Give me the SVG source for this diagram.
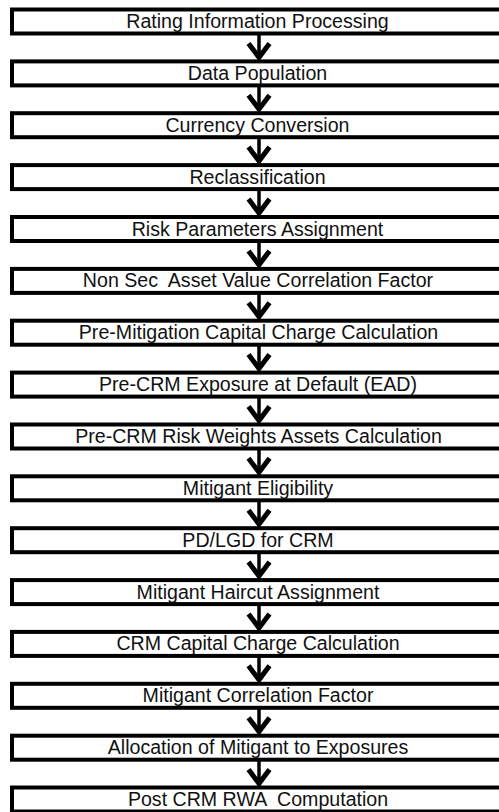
<svg xmlns="http://www.w3.org/2000/svg" width="499" height="812" viewBox="0 0 499 812">
<defs>
<style>
.box{fill:#fff;stroke:#000;stroke-width:4}
.lbl{font-family:"Liberation Sans",Arial,sans-serif;font-size:19.6px;fill:#111;text-anchor:middle}
.shaft{stroke:#000;stroke-width:3.5;fill:none}
.head{stroke:#000;stroke-width:5;fill:none;stroke-linejoin:miter;stroke-linecap:butt}
</style>
</defs>
<rect width="499" height="812" fill="#fff"/>
<g id="connectors">
<g><line class="shaft" x1="259" y1="33.5" x2="259" y2="57.4"/><polyline class="head" points="248.5,43.4 259,57.4 269.5,43.4"/></g>
<g><line class="shaft" x1="259" y1="85.4" x2="259" y2="109.2"/><polyline class="head" points="248.5,95.2 259,109.2 269.5,95.2"/></g>
<g><line class="shaft" x1="259" y1="137.2" x2="259" y2="161.1"/><polyline class="head" points="248.5,147.1 259,161.1 269.5,147.1"/></g>
<g><line class="shaft" x1="259" y1="189.1" x2="259" y2="213"/><polyline class="head" points="248.5,199 259,213 269.5,199"/></g>
<g><line class="shaft" x1="259" y1="241" x2="259" y2="264.9"/><polyline class="head" points="248.5,250.9 259,264.9 269.5,250.9"/></g>
<g><line class="shaft" x1="259" y1="292.9" x2="259" y2="316.7"/><polyline class="head" points="248.5,302.7 259,316.7 269.5,302.7"/></g>
<g><line class="shaft" x1="259" y1="344.7" x2="259" y2="368.6"/><polyline class="head" points="248.5,354.6 259,368.6 269.5,354.6"/></g>
<g><line class="shaft" x1="259" y1="396.6" x2="259" y2="420.5"/><polyline class="head" points="248.5,406.5 259,420.5 269.5,406.5"/></g>
<g><line class="shaft" x1="259" y1="448.5" x2="259" y2="472.3"/><polyline class="head" points="248.5,458.3 259,472.3 269.5,458.3"/></g>
<g><line class="shaft" x1="259" y1="500.3" x2="259" y2="524.2"/><polyline class="head" points="248.5,510.2 259,524.2 269.5,510.2"/></g>
<g><line class="shaft" x1="259" y1="552.2" x2="259" y2="576.1"/><polyline class="head" points="248.5,562.1 259,576.1 269.5,562.1"/></g>
<g><line class="shaft" x1="259" y1="604.1" x2="259" y2="627.9"/><polyline class="head" points="248.5,613.9 259,627.9 269.5,613.9"/></g>
<g><line class="shaft" x1="259" y1="655.9" x2="259" y2="679.8"/><polyline class="head" points="248.5,665.8 259,679.8 269.5,665.8"/></g>
<g><line class="shaft" x1="259" y1="707.8" x2="259" y2="731.7"/><polyline class="head" points="248.5,717.7 259,731.7 269.5,717.7"/></g>
<g><line class="shaft" x1="259" y1="759.7" x2="259" y2="783.5"/><polyline class="head" points="248.5,769.5 259,783.5 269.5,769.5"/></g>
</g>
<g id="n1"><rect class="box" x="12" y="9.5" width="500" height="24"/><text class="lbl" x="257.5" y="28">Rating Information Processing</text></g>
<g id="n2"><rect class="box" x="12" y="61.4" width="500" height="24"/><text class="lbl" x="257.5" y="79.9">Data Population</text></g>
<g id="n3"><rect class="box" x="12" y="113.2" width="500" height="24"/><text class="lbl" x="257.5" y="131.7">Currency Conversion</text></g>
<g id="n4"><rect class="box" x="12" y="165.1" width="500" height="24"/><text class="lbl" x="257.5" y="183.6">Reclassification</text></g>
<g id="n5"><rect class="box" x="12" y="217" width="500" height="24"/><text class="lbl" x="257.5" y="235.5">Risk Parameters Assignment</text></g>
<g id="n6"><rect class="box" x="12" y="268.9" width="500" height="24"/><text class="lbl" x="258" y="287.4" xml:space="preserve">Non Sec  Asset Value Correlation Factor</text></g>
<g id="n7"><rect class="box" x="12" y="320.7" width="500" height="24"/><text class="lbl" x="258.5" y="339.2">Pre-Mitigation Capital Charge Calculation</text></g>
<g id="n8"><rect class="box" x="12" y="372.6" width="500" height="24"/><text class="lbl" x="258" y="391.1">Pre-CRM Exposure at Default (EAD)</text></g>
<g id="n9"><rect class="box" x="12" y="424.5" width="500" height="24"/><text class="lbl" x="258.5" y="443">Pre-CRM Risk Weights Assets Calculation</text></g>
<g id="n10"><rect class="box" x="12" y="476.3" width="500" height="24"/><text class="lbl" x="258" y="494.8">Mitigant Eligibility</text></g>
<g id="n11"><rect class="box" x="12" y="528.2" width="500" height="24"/><text class="lbl" x="258" y="546.7">PD/LGD for CRM</text></g>
<g id="n12"><rect class="box" x="12" y="580.1" width="500" height="24"/><text class="lbl" x="258" y="598.6">Mitigant Haircut Assignment</text></g>
<g id="n13"><rect class="box" x="12" y="631.9" width="500" height="24"/><text class="lbl" x="258" y="650.4">CRM Capital Charge Calculation</text></g>
<g id="n14"><rect class="box" x="12" y="683.8" width="500" height="24"/><text class="lbl" x="258" y="702.3">Mitigant Correlation Factor</text></g>
<g id="n15"><rect class="box" x="12" y="735.7" width="500" height="24"/><text class="lbl" x="258" y="754.2">Allocation of Mitigant to Exposures</text></g>
<g id="n16"><rect class="box" x="12" y="787.5" width="500" height="24"/><text class="lbl" x="258" y="806" xml:space="preserve">Post CRM RWA  Computation</text></g>
</svg>
